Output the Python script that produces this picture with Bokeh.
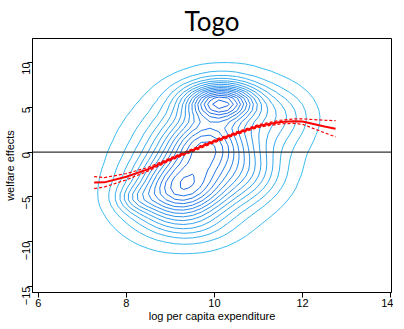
import math
import numpy as np
from bokeh.plotting import figure
from bokeh.models import Range1d, Span, FixedTicker
from bokeh.embed import file_html
from bokeh.resources import INLINE

# fitted curve (log per capita expenditure -> welfare effects)
fit_x = [7.27, 7.5, 8.0, 8.5, 9.0, 9.5, 10.0, 10.5, 11.0, 11.5, 11.8, 12.0, 12.5, 12.75]
fit_y = [-3.41, -3.38, -2.75, -1.9, -0.8, 0.2, 1.2, 2.1, 2.9, 3.35, 3.45, 3.4, 2.85, 2.6]
fit_hi = [-2.74, -2.85, -2.4, -1.7, -0.65, 0.35, 1.35, 2.25, 3.05, 3.55, 3.7, 3.7, 3.55, 3.5]
fit_lo = [-4.07, -3.9, -3.1, -2.1, -0.95, 0.05, 1.05, 1.95, 2.75, 3.15, 3.2, 3.1, 2.15, 1.7]

# density mixture components
comp_cx = [9.8, 10.15, 9.2, 8.2, 11.5, 9.8, 9.5, 10.8]
comp_cy = [-0.5, 5.6, -4.3, -5.2, 4.0, 1.0, -8.5, -2.5]
comp_sx = [1.05, 0.55, 0.7, 0.3, 0.5, 0.6, 0.6, 0.5]
comp_sy = [4.8, 1.4, 2.4, 1.0, 2.0, 2.0, 1.3, 2.0]
comp_rho = [0.2, 0.0, 0.1, 0.0, 0.0, 0.0, 0.0, 0.0]
comp_w = [0.35, 0.55, 0.4, 0.1, 0.1, 0.25, 0.05, 0.1]

x_ticks = [6, 8, 10, 12, 14]
y_ticks = [-15, -10, -5, 0, 5, 10]

p = figure(frame_width=359, frame_height=254, output_backend="svg", toolbar_location=None,
           x_range=Range1d(5.87, 14.02), y_range=Range1d(-15.67, 12.67),
           min_border_left=27, min_border_right=2, min_border_top=0, min_border_bottom=0)
p.title.text = "Togo"
p.title.text_font = "Lato"
p.title.text_font_size = "26px"
p.title.text_font_style = "normal"
p.title.align = "center"
p.title.text_color = "black"
p.title.standoff = 4

p.grid.visible = False
p.outline_line_color = "black"
p.outline_line_width = 1

xs = np.linspace(6.5, 13.5, 36)
ys = np.linspace(-14, 12, 40)
X, Y = np.meshgrid(xs, ys)
Z = np.zeros_like(X)
for cx, cy, sx, sy, rho, w in zip(comp_cx, comp_cy, comp_sx, comp_sy, comp_rho, comp_w):
    u = (X - cx) / sx
    v = (Y - cy) / sy
    Z += w * np.exp(-0.5 * (u * u - 2 * rho * u * v + v * v) / (1 - rho * rho))
nlev = 16
levels = list(Z.max() * np.linspace(0.05, 0.95, nlev))

def mix(c1, c2, t):
    return "#%02x%02x%02x" % tuple(int(round(a + (b - a) * t)) for a, b in zip(c1, c2))

colors = [mix((60, 190, 240), (30, 100, 230), i / (nlev - 1)) for i in range(nlev)]
p.contour(X, Y, Z, levels, line_color=colors, line_width=1)

p.add_layout(Span(location=0, dimension="width", line_color="#333333", line_width=1.3))

p.line(fit_x, fit_hi, line_color="red", line_width=1.2, line_dash="3 2")
p.line(fit_x, fit_lo, line_color="red", line_width=1.2, line_dash="3 2")
p.line(fit_x, fit_y, line_color="red", line_width=2)

p.xaxis.ticker = FixedTicker(ticks=x_ticks)
p.yaxis.ticker = FixedTicker(ticks=y_ticks)
p.yaxis.major_label_orientation = math.pi / 2
for ax in (p.xaxis[0], p.yaxis[0]):
    ax.minor_tick_line_color = None
    ax.major_tick_in = 0
    ax.major_tick_out = 5
    ax.axis_line_color = "black"
    ax.major_tick_line_color = "black"
    ax.major_label_text_font = "Liberation Sans"
    ax.major_label_text_font_size = "11px"
    ax.major_label_text_color = "black"
    ax.axis_label_text_font = "Liberation Sans"
    ax.axis_label_text_font_size = "11px"
    ax.axis_label_text_font_style = "normal"
    ax.axis_label_text_color = "black"
    ax.major_label_standoff = 1
    ax.axis_label_standoff = 0
p.xaxis.axis_label = "log per capita expenditure"
p.yaxis.axis_label = "welfare effects"

open("out.html", "w").write(file_html(p, INLINE))
